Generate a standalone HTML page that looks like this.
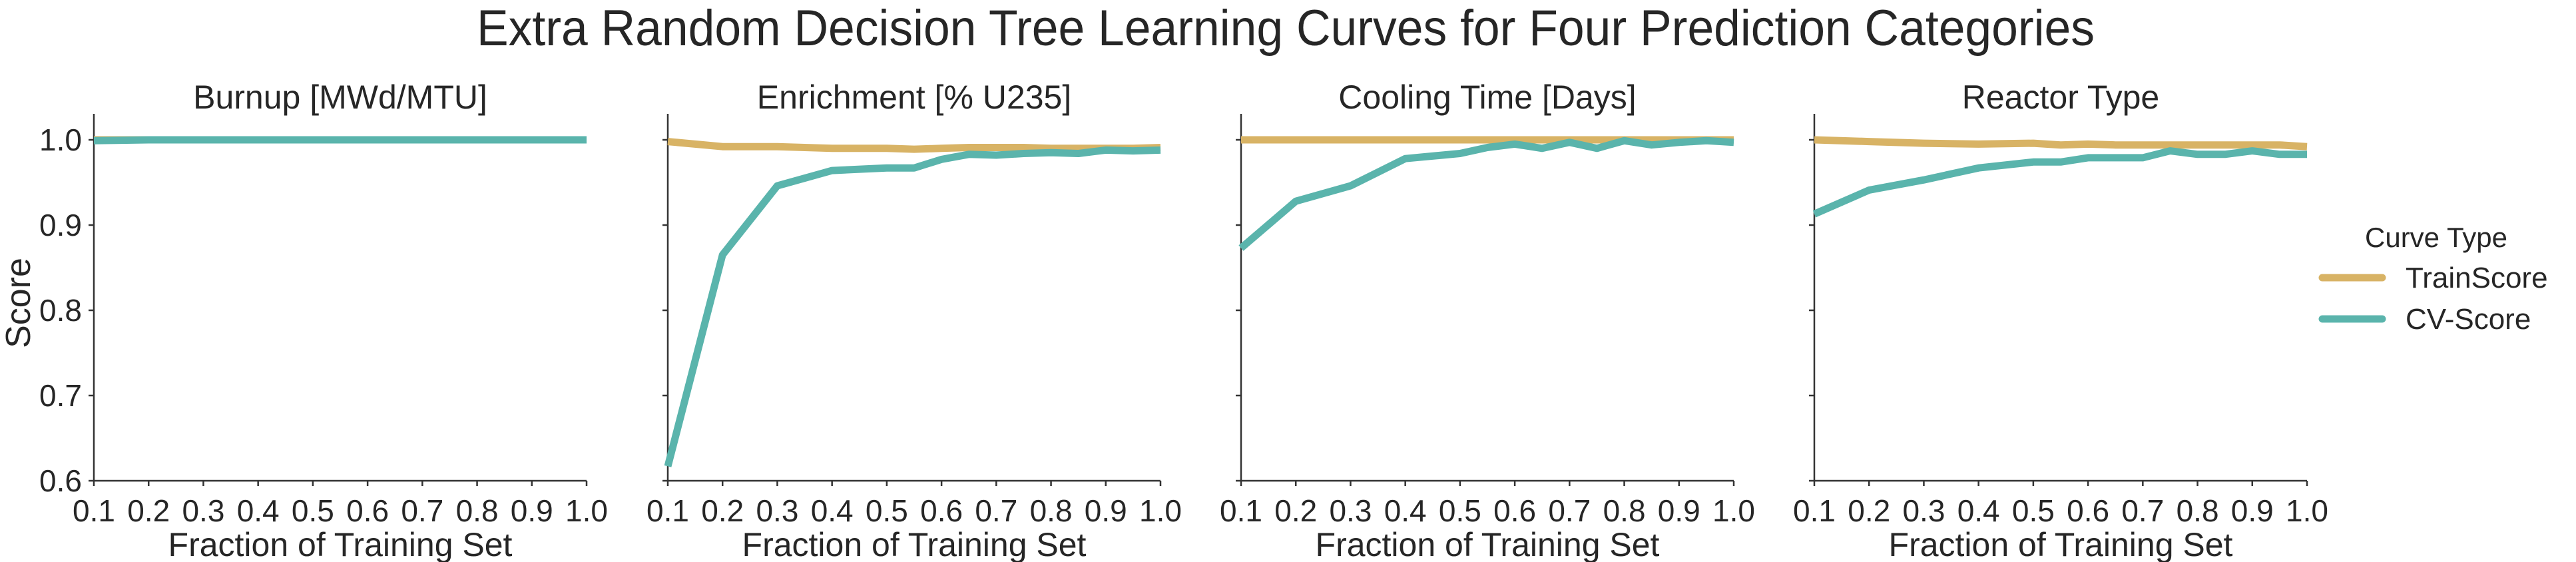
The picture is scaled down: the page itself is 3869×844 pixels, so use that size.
<!DOCTYPE html>
<html><head><meta charset="utf-8"><style>
body{margin:0;background:#fff}
svg{display:block}
text{font-family:"Liberation Sans Narrow","Liberation Sans",sans-serif;fill:#262626}
.sans{font-family:"Liberation Sans",sans-serif}
</style></head><body>
<svg id="chart" width="3869" height="844" viewBox="0 0 3869 844" xmlns="http://www.w3.org/2000/svg">
<text class="sans" x="1931" y="68" font-size="76" text-anchor="middle" textLength="2430" lengthAdjust="spacingAndGlyphs">Extra Random Decision Tree Learning Curves for Four Prediction Categories</text>
<text class="sans" transform="translate(45,455) rotate(-90)" font-size="52" text-anchor="middle">Score</text>
<g id="panels"></g>
<g>
<text class="sans" x="3659" y="371" font-size="42" text-anchor="middle">Curve Type</text>
<line x1="3488" y1="417" x2="3578" y2="417" stroke="#d8b365" stroke-width="11" stroke-linecap="round"/>
<text class="sans" x="3613" y="432" font-size="44">TrainScore</text>
<line x1="3488" y1="479" x2="3578" y2="479" stroke="#5ab4ac" stroke-width="11" stroke-linecap="round"/>
<text class="sans" x="3613" y="494" font-size="44">CV-Score</text>
</g>
</svg>
<script>
const fractions = [0.1,0.2,0.3,0.4,0.5,0.55,0.6,0.65,0.7,0.75,0.8,0.85,0.9,0.95,1.0];
const panelTitles = ["Burnup [MWd/MTU]","Enrichment [% U235]","Cooling Time [Days]","Reactor Type"];
const burnupTrain = [1.0,1.0,1.0,1.0,1.0,1.0,1.0,1.0,1.0,1.0,1.0,1.0,1.0,1.0,1.0];
const burnupCV = [0.999,1.0,1.0,1.0,1.0,1.0,1.0,1.0,1.0,1.0,1.0,1.0,1.0,1.0,1.0];
const enrichTrain = [0.998,0.992,0.992,0.990,0.990,0.989,0.990,0.991,0.991,0.991,0.990,0.990,0.990,0.990,0.991];
const enrichCV = [0.617,0.865,0.946,0.964,0.967,0.967,0.977,0.983,0.982,0.984,0.985,0.984,0.988,0.987,0.988];
const coolTrain = [1.0,1.0,1.0,1.0,1.0,1.0,1.0,1.0,1.0,1.0,1.0,1.0,1.0,1.0,1.0];
const coolCV = [0.873,0.928,0.946,0.978,0.984,0.991,0.995,0.990,0.997,0.990,0.999,0.994,0.997,0.999,0.997];
const reactTrain = [1.0,0.998,0.996,0.995,0.996,0.994,0.995,0.994,0.994,0.994,0.994,0.994,0.994,0.994,0.992];
const reactCV = [0.913,0.941,0.953,0.967,0.974,0.974,0.979,0.979,0.979,0.987,0.983,0.983,0.987,0.983,0.983];
const xTicks = [0.1,0.2,0.3,0.4,0.5,0.6,0.7,0.8,0.9,1.0];
const xTickLabels = ["0.1","0.2","0.3","0.4","0.5","0.6","0.7","0.8","0.9","1.0"];
const yTicks = [0.6,0.7,0.8,0.9,1.0];
const yTickLabels = ["0.6","0.7","0.8","0.9","1.0"];
const trainSeries = [burnupTrain, enrichTrain, coolTrain, reactTrain];
const cvSeries = [burnupCV, enrichCV, coolCV, reactCV];

const NS="http://www.w3.org/2000/svg";
const panelLefts=[141,1003,1864,2725];
const PW=740, Y0=722, YTOP=171;
function xs(v,l){return l+(v-0.1)/0.9*PW;}
function ys(v){return Y0-(v-0.6)*1280;}
function mk(tag,attrs,parent){const e=document.createElementNS(NS,tag);for(const k in attrs)e.setAttribute(k,attrs[k]);parent.appendChild(e);return e;}
const root=document.getElementById('panels');
panelTitles.forEach((t,i)=>{
  const l=panelLefts[i];
  const g=mk('g',{},root);
  
  
  const tt=mk('text',{x:l+PW/2,y:163,'font-size':50,'text-anchor':'middle',class:'sans'},g);
  tt.textContent=t;
  
  
  const ya=mk('line',{x1:l,y1:YTOP,x2:l,y2:Y0,stroke:'#333',"stroke-width":2.5},g);
  
  
  const xa=mk('line',{x1:l,y1:Y0,x2:l+PW,y2:Y0,stroke:'#333',"stroke-width":2.5},g);
  
  
  yTicks.forEach((v,j)=>{
    const tk=mk('line',{x1:l-8,y1:ys(v),x2:l,y2:ys(v),stroke:'#333',"stroke-width":2.5},g);
    
    
    if(i===0){
      const lb=mk('text',{x:l-18,y:ys(v)+16,'font-size':46,'text-anchor':'end'},g);
      lb.textContent=yTickLabels[j];
      
      
    }
  });
  xTicks.forEach((v,j)=>{
    const tk=mk('line',{x1:xs(v,l),y1:Y0,x2:xs(v,l),y2:Y0+8,stroke:'#333',"stroke-width":2.5},g);
    
    
    const lb=mk('text',{x:xs(v,l),y:783,'font-size':46,'text-anchor':'middle'},g);
    lb.textContent=xTickLabels[j];
    
    
  });
  const xl=mk('text',{x:l+PW/2,y:835,'font-size':50,'text-anchor':'middle',class:'sans'},g);
  xl.textContent='Fraction of Training Set';
  
  
  const pTrain=fractions.map((f,k)=>xs(f,l).toFixed(1)+','+ys(trainSeries[i][k]).toFixed(1)).join(' ');
  const lt=mk('polyline',{points:pTrain,fill:'none',stroke:'#d8b365','stroke-width':11,'stroke-linejoin':'round'},g);
  
  
  const pCV=fractions.map((f,k)=>xs(f,l).toFixed(1)+','+ys(cvSeries[i][k]).toFixed(1)).join(' ');
  const lc=mk('polyline',{points:pCV,fill:'none',stroke:'#5ab4ac','stroke-width':11,'stroke-linejoin':'round'},g);
  
  
});
</script>
</body></html>
